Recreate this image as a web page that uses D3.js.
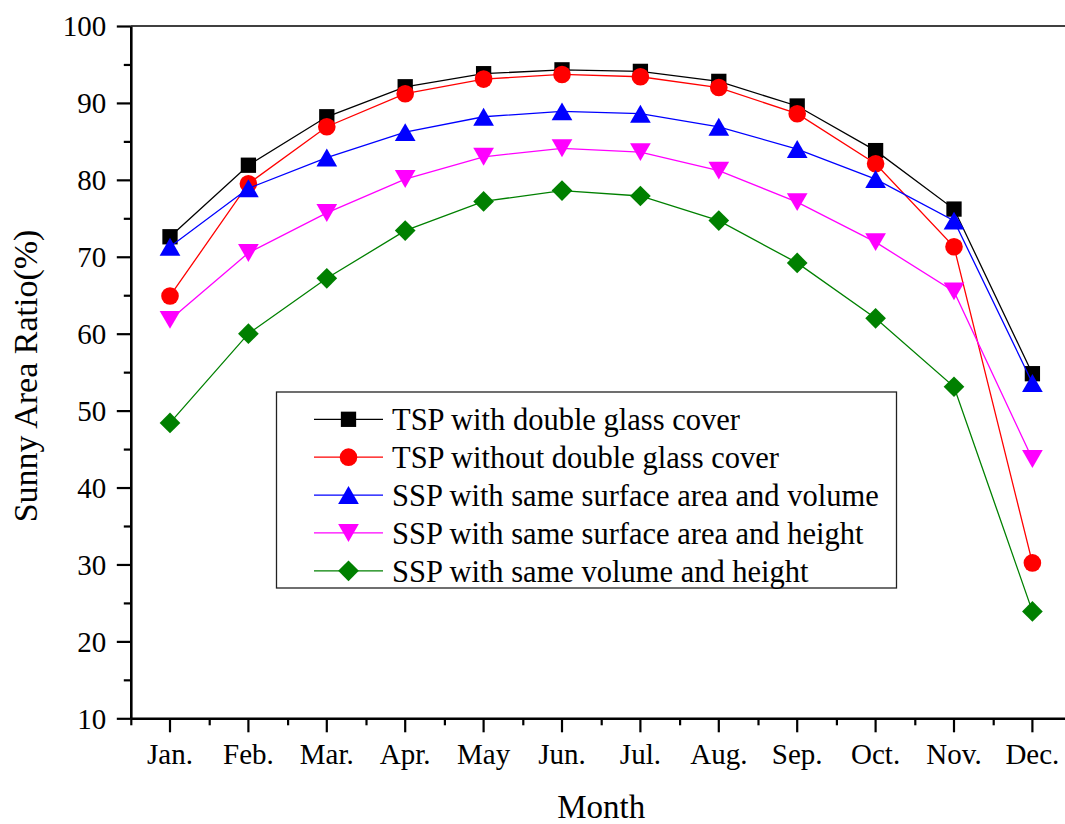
<!DOCTYPE html>
<html>
<head>
<meta charset="utf-8">
<script src="https://cdn.jsdelivr.net/npm/d3@7"></script>
<style>
  html, body { margin: 0; padding: 0; background: #fff; }
  svg { display: block; }
  text { font-family: "Liberation Serif", "Times New Roman", serif; fill: #000; }
</style>
</head>
<body>
<svg id="chart" width="1065" height="824"></svg>
<script>
// Monthly sunny area ratio (%) for the five pond configurations
const months = ["Jan.", "Feb.", "Mar.", "Apr.", "May", "Jun.", "Jul.", "Aug.", "Sep.", "Oct.", "Nov.", "Dec."];
const tspDoubleGlass   = [72.6, 81.9, 88.2, 92.1, 93.8, 94.3, 94.1, 92.8, 89.6, 83.8, 76.2, 54.8];
const tspNoGlass       = [64.9, 79.5, 86.9, 91.2, 93.1, 93.7, 93.4, 92.0, 88.6, 82.1, 71.3, 30.2];
const sspAreaVolume    = [71.3, 78.9, 82.9, 86.2, 88.2, 88.9, 88.6, 86.9, 84.0, 80.1, 74.7, 53.6];
const sspAreaHeight    = [61.8, 70.5, 75.7, 80.1, 83.0, 84.1, 83.6, 81.2, 77.1, 71.9, 65.5, 43.7];
const sspVolumeHeight  = [48.4, 60.0, 67.2, 73.4, 77.2, 78.6, 77.9, 74.7, 69.2, 62.0, 53.1, 23.9];
const seriesNames = [
  "TSP with double glass cover",
  "TSP without double glass cover",
  "SSP with same surface area and volume",
  "SSP with same surface area and height",
  "SSP with same volume and height"
];
const yTicks = [10, 20, 30, 40, 50, 60, 70, 80, 90, 100];

// Symbol shapes (size argument = squared characteristic length)
const triUp = { draw(ctx, size) {
  const s = Math.sqrt(size), h = s * Math.sqrt(3) / 2;
  ctx.moveTo(0, -h / 2); ctx.lineTo(s / 2, h / 2); ctx.lineTo(-s / 2, h / 2); ctx.closePath();
}};
const triDown = { draw(ctx, size) {
  const s = Math.sqrt(size), h = s * Math.sqrt(3) / 2;
  ctx.moveTo(0, h / 2); ctx.lineTo(s / 2, -h / 2); ctx.lineTo(-s / 2, -h / 2); ctx.closePath();
}};
const rhomb = { draw(ctx, size) {
  const r = Math.sqrt(size) / 2;
  ctx.moveTo(0, -r); ctx.lineTo(r, 0); ctx.lineTo(0, r); ctx.lineTo(-r, 0); ctx.closePath();
}};

const styles = [
  { color: "#000000", type: d3.symbolSquare, size: 15.3 * 15.3 },
  { color: "#FF0000", type: d3.symbolCircle, size: Math.PI * 8.8 * 8.8 },
  { color: "#0000FF", type: triUp,           size: 20.7 * 20.7 },
  { color: "#FF00FF", type: triDown,         size: 20.7 * 20.7 },
  { color: "#008000", type: rhomb,           size: 20.7 * 20.7 }
];
const allSeries = [tspDoubleGlass, tspNoGlass, sspAreaVolume, sspAreaHeight, sspVolumeHeight];

const svg = d3.select("#chart");
const plotLeft = 130.8, bandStep = 78.4, plotTop = 26, plotBottom = 718.3;
const plotRight = plotLeft + bandStep * months.length;

const x = d3.scaleBand().domain(months).range([plotLeft, plotRight]).padding(0);
const xc = m => x(m) + x.bandwidth() / 2;
const xEdge = d3.scaleLinear().domain([0, months.length]).range([plotLeft, plotRight]);
const y = d3.scaleLinear().domain([10, 100]).range([plotBottom, plotTop]);

// Top frame line
svg.append("line")
  .attr("x1", plotLeft).attr("x2", plotRight).attr("y1", plotTop).attr("y2", plotTop)
  .attr("stroke", "#000").attr("stroke-width", 1.4);

// Y axis: major and minor ticks
const yAxis = svg.append("g").attr("transform", `translate(${plotLeft},0)`)
  .call(d3.axisLeft(y).tickValues(yTicks).tickSize(14).tickSizeOuter(0).tickPadding(10.5).tickFormat(d3.format("d")));
yAxis.select(".domain").attr("stroke-width", 2.6);
yAxis.selectAll(".tick line").attr("stroke-width", 2.2);
yAxis.selectAll(".tick text").attr("font-size", 29).attr("font-family", "Liberation Serif").attr("dy", "0.34em");

const yMinor = svg.append("g").attr("transform", `translate(${plotLeft},0)`)
  .call(d3.axisLeft(y).tickValues(d3.range(15, 100, 10)).tickSize(7).tickFormat(""));
yMinor.select(".domain").remove();
yMinor.selectAll(".tick line").attr("stroke-width", 2.2);

// X axis: major ticks at month centres, minor ticks at boundaries
const xAxis = svg.append("g").attr("transform", `translate(0,${plotBottom})`)
  .call(d3.axisBottom(x).tickSize(14).tickSizeOuter(0));
xAxis.select(".domain").attr("stroke-width", 2.6);
xAxis.selectAll(".tick line").attr("stroke-width", 2.2);
xAxis.selectAll(".tick text").attr("font-size", 29).attr("font-family", "Liberation Serif")
  .attr("y", 46).attr("dy", 0);

const xMinor = svg.append("g").attr("transform", `translate(0,${plotBottom})`)
  .call(d3.axisBottom(xEdge).tickValues(d3.range(0, months.length + 1)).tickSize(7).tickFormat(""));
xMinor.select(".domain").remove();
xMinor.selectAll(".tick line").attr("stroke-width", 2.2);

// Axis titles
svg.append("text").attr("x", (plotLeft + plotRight) / 2).attr("y", 818)
  .attr("text-anchor", "middle").attr("font-size", 33).text("Month");
svg.append("text")
  .attr("transform", `translate(37,376) rotate(-90)`)
  .attr("text-anchor", "middle").attr("font-size", 34).text("Sunny Area Ratio(%)");

// Series lines and markers
const line = d3.line().x((d, i) => xc(months[i])).y(d => y(d));
allSeries.forEach((vals, k) => {
  const st = styles[k];
  const g = svg.append("g");
  g.append("path").datum(vals).attr("d", line)
    .attr("fill", "none").attr("stroke", st.color).attr("stroke-width", 1.3);
  g.selectAll("path.mk").data(vals).join("path").attr("class", "mk")
    .attr("d", d3.symbol().type(st.type).size(st.size))
    .attr("transform", (d, i) => `translate(${xc(months[i])},${y(d)})`)
    .attr("fill", st.color);
});

// Legend
const lg = svg.append("g");
lg.append("rect").attr("x", 276.5).attr("y", 392).attr("width", 620).attr("height", 196)
  .attr("fill", "#fff").attr("stroke", "#222").attr("stroke-width", 1.3);
const rowY = d3.scaleLinear().domain([0, 4]).range([419.3, 570.8]);
seriesNames.forEach((name, k) => {
  const st = styles[k], cy = rowY(k);
  lg.append("line").attr("x1", 314).attr("x2", 383).attr("y1", cy).attr("y2", cy)
    .attr("stroke", st.color).attr("stroke-width", 1.3);
  lg.append("path").attr("d", d3.symbol().type(st.type).size(st.size))
    .attr("transform", `translate(348.5,${cy})`).attr("fill", st.color);
  lg.append("text").attr("x", 392).attr("y", cy + 10.7).attr("font-size", 30.5).text(name);
});
</script>
</body>
</html>
